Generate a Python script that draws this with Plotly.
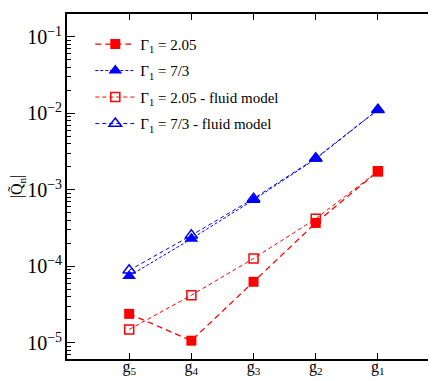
import plotly.graph_objects as go

# ── Data ─────────────────────────────────────────────────────────────────────
modes = ["g5", "g4", "g3", "g2", "g1"]
mode_labels = ["g<sub>5</sub>", "g<sub>4</sub>", "g<sub>3</sub>", "g<sub>2</sub>", "g<sub>1</sub>"]

q_205 = [2.4e-5, 1.07e-5, 6.3e-5, 3.7e-4, 1.75e-3]
q_73 = [7.5e-5, 2.3e-4, 7.4e-4, 2.55e-3, 1.12e-2]
q_205_fluid = [1.5e-5, 4.2e-5, 1.27e-4, 4.2e-4, 1.75e-3]
q_73_fluid = [8.9e-5, 2.55e-4, 7.7e-4, 2.6e-3, 1.12e-2]

RED = "#ff0000"
BLUE = "#0000ff"
FONT = "Liberation Serif, Times New Roman, serif"

fig = go.Figure()

fig.add_trace(go.Scatter(
    x=modes, y=q_205, mode="lines+markers",
    name="Γ<sub>1</sub> = 2.05", legendgroup="a",
    line=dict(color=RED, width=1.3, dash="6px,4px"),
    marker=dict(symbol="square", size=10, color=RED),
))
fig.add_trace(go.Scatter(
    x=modes, y=q_73, mode="lines+markers",
    name="Γ<sub>1</sub> = 7/3", legendgroup="b",
    line=dict(color=BLUE, width=1.0, dash="3px,2px"),
    marker=dict(symbol="triangle-up", size=12, color=BLUE),
))
fig.add_trace(go.Scatter(
    x=modes, y=q_205_fluid, mode="lines+markers",
    name="Γ<sub>1</sub> = 2.05 - fluid model", legendgroup="c",
    line=dict(color=RED, width=1.0, dash="4px,3px"),
    marker=dict(symbol="square-open", size=9, color=RED, line=dict(width=1.5)),
))
fig.add_trace(go.Scatter(
    x=modes, y=q_73_fluid, mode="lines+markers",
    name="Γ<sub>1</sub> = 7/3 - fluid model", legendgroup="d",
    line=dict(color=BLUE, width=1.0, dash="4px,3px"),
    marker=dict(symbol="triangle-up-open", size=11, color=BLUE, line=dict(width=1.5)),
))

fig.update_layout(
    width=436, height=381,
    paper_bgcolor="white", plot_bgcolor="white",
    font=dict(family=FONT, size=16, color="black"),
    margin=dict(l=48, r=7, t=4, b=30),
    showlegend=True,
    legend=dict(
        x=0.063, y=0.96, xanchor="left", yanchor="top",
        bgcolor="rgba(0,0,0,0)", font=dict(family=FONT, size=15),
        tracegroupgap=4, itemwidth=40,
    ),
    xaxis=dict(
        type="category", categoryorder="array", categoryarray=modes,
        range=[-1, 4.95],
        tickvals=modes, ticktext=mode_labels,
        ticks="inside", ticklen=6, tickcolor="black",
        ticklabelstandoff=-8,
        showline=True, linecolor="black", linewidth=1.5, mirror="ticks",
        showgrid=False, zeroline=False,
    ),
    yaxis=dict(
        type="log", range=[-5.21, -0.70],
        tickmode="linear", tick0=0, dtick=1,
        exponentformat="power", showexponent="all",
        ticks="inside", ticklen=8, tickcolor="black",
        minor=dict(ticks="inside", ticklen=4, tickcolor="black", showgrid=False),
        showline=True, linecolor="black", linewidth=1.5, mirror="ticks",
        showgrid=False, zeroline=False,
        title=dict(text="|Q̃<sub>n</sub>|", standoff=4, font=dict(size=16)),
    ),
)

fig.write_html("out.html")
